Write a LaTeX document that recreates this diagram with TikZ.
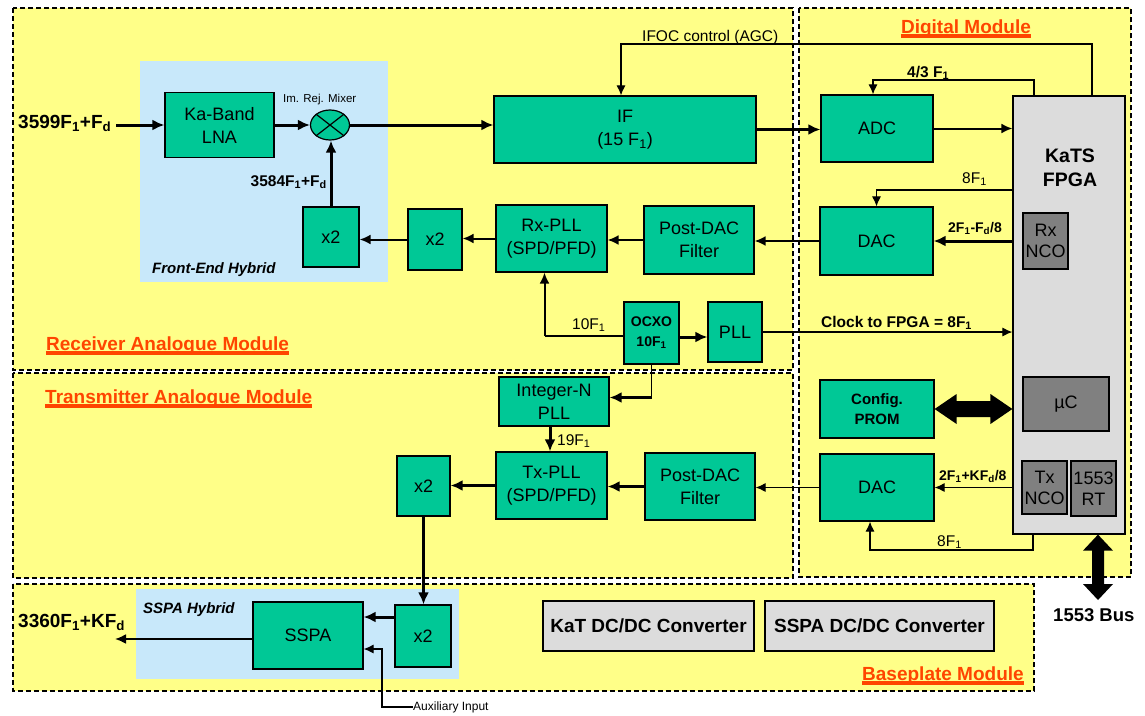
\documentclass[tikz,border=0pt]{standalone}
\usepackage{fontspec}
\setmainfont{Liberation Sans}
\usepackage{xcolor}
\usepackage{tikz}
\usetikzlibrary{arrows.meta, calc, shapes.geometric}

\definecolor{modyellow}{RGB}{255,255,136}
\definecolor{hybblue}{RGB}{200,232,250}
\definecolor{blkgreen}{RGB}{0,200,150}
\definecolor{fpgagray}{RGB}{220,220,220}
\definecolor{ncogray}{RGB}{128,128,128}
\definecolor{titleorange}{RGB}{255,69,0}
\newcommand{\Fone}{F\textsubscript{1}}
\newcommand{\Fdop}{F\textsubscript{d}}

\begin{document}
\begin{tikzpicture}[x=1pt, y=-1pt,
    module/.style={draw=black, fill=modyellow, line width=1.8pt, dash pattern=on 5pt off 3pt},
    hybrid/.style={fill=hybblue},
    blk/.style={draw=black, fill=blkgreen, line width=1.2pt, inner sep=0pt, align=center, font=\fontsize{18}{23}\selectfont},
    greybox/.style={blk, fill=fpgagray},
    ncobox/.style={blk, fill=ncogray, line width=2pt, font=\fontsize{18}{21}\selectfont},
    sz/.style 2 args={minimum width=#1pt, minimum height=#2pt},
    lbl/.style={inner sep=0pt, font=\fontsize{15.5}{18}\selectfont},
    blbl/.style={inner sep=0pt, font=\bfseries\fontsize{15.5}{18}\selectfont},
    modtitle/.style={inner sep=0pt, text=titleorange, font=\bfseries\fontsize{19}{23}\selectfont},
    uline/.style={draw=titleorange, line width=3.5pt},
    hyblbl/.style={inner sep=0pt, font=\bfseries\itshape\fontsize{15}{18}\selectfont},
    wire/.style={line width=1.1pt},
    thn/.style={line width=1.1pt, -{Latex[length=10pt,width=9pt]}},
    med/.style={line width=2pt, -{Latex[length=11pt,width=10pt]}},
    thk/.style={line width=3pt, -{Latex[length=12pt,width=11pt]}}]

    \useasboundingbox (0,0) rectangle (1145,715);

    % Modules
    \draw[module] (13,8) rectangle (793,370);
    \draw[module] (13,373) rectangle (793,578);
    \draw[module] (799,8) rectangle (1131,577);
    \draw[module] (13,584) rectangle (1034,691);

    % Hybrids
    \fill[hybrid] (140,61) rectangle (388,282);
    \fill[hybrid] (136,589) rectangle (459,679);
    \node[hyblbl, anchor=base west] (fehyb) at (152,273) {Front-End Hybrid};
    \node[hyblbl, anchor=base west] (sshyb) at (143,613) {SSPA Hybrid};

    % Titles
    \node[modtitle, anchor=base west] (rxtitle) at (46,350) {Receiver Analogue Module};
    \node[modtitle, anchor=base west] (txtitle) at (45,403) {Transmitter Analogue Module};
    \node[modtitle, anchor=base] (dgtitle) at (966,33) {Digital Module};
    \node[modtitle, anchor=base west] (bptitle) at (862,680) {Baseplate Module};
    \foreach \t in {rxtitle, txtitle, dgtitle, bptitle} {
        \draw[uline] ([yshift=-3pt]\t.base west) -- ([yshift=-3pt]\t.base east);
    }

    % Receiver blocks
    \node[blk, sz={109}{65}] (lna) at (219.5,125) {Ka-Band\\LNA};
    \node[draw, fill=blkgreen, ellipse, line width=1.2pt, minimum width=39pt, minimum height=30pt, inner sep=0pt] (mix) at (330,125) {};
    \draw[line width=1.2pt] (mix.north west) -- (mix.south east) (mix.north east) -- (mix.south west);
    \node[lbl, font=\fontsize{11.5}{13}\selectfont, anchor=base west] (mixlbl) at (283,102) {Im. Rej. Mixer};
    \node[blk, sz={56}{60}] (fex2) at (331,237) {x2};
    \node[blk, sz={54}{61}] (rxx2) at (435,239.5) {x2};
    \node[blk, sz={111}{67}] (rxpll) at (551.5,238.5) {Rx-PLL\\(SPD/PFD)};
    \node[blk, sz={110}{68}] (rxfilt) at (699,240) {Post-DAC\\Filter};
    \node[blk, sz={262}{67}] (if) at (625,129.5) {IF\\(15 \Fone)};
    \node[blk, sz={55}{62}, font=\bfseries\fontsize{14}{20}\selectfont] (ocxo) at (651.5,333) {OCXO\\10\Fone};
    \node[blk, sz={54}{60}] (pll) at (735,332) {PLL};

    % Digital blocks
    \node[greybox, sz={112}{438}] (fpga) at (1069,315) {};
    \node[inner sep=0pt, align=center, font=\bfseries\fontsize{19.5}{24}\selectfont] (fpgatxt) at (1070,168) {KaTS\\FPGA};
    \node[ncobox, sz={45}{56}] (rxnco) at (1045.5,241) {Rx\\NCO};
    \node[ncobox, sz={86}{54}] (uc) at (1066,404) {µC};
    \node[ncobox, sz={45}{53}] (txnco) at (1044.5,487.5) {Tx\\NCO};
    \node[ncobox, sz={45}{55}] (rt) at (1093.5,488.5) {1553\\RT};
    \node[blk, sz={112}{67}] (adc) at (877,128.5) {ADC};
    \node[blk, sz={113}{68}] (rxdac) at (876.5,241) {DAC};
    \node[blk, sz={114}{58}, font=\bfseries\fontsize{15}{20}\selectfont] (prom) at (877,409) {Config.\\PROM};
    \node[blk, sz={114}{67}] (txdac) at (877,487.5) {DAC};

    % Transmitter blocks
    \node[blk, sz={110}{49}] (intn) at (554,401.5) {Integer-N\\PLL};
    \node[blk, sz={111}{67}] (txpll) at (551.5,485.5) {Tx-PLL\\(SPD/PFD)};
    \node[blk, sz={110}{67}] (txfilt) at (700,486.5) {Post-DAC\\Filter};
    \node[blk, sz={53}{60}] (txx2) at (423.5,486) {x2};

    % Baseplate blocks
    \node[blk, sz={110}{67}] (sspa) at (308,635.5) {SSPA};
    \node[blk, sz={56}{62}] (ssx2) at (423,636) {x2};
    \node[greybox, sz={211}{50}, font=\bfseries\fontsize{19}{23}\selectfont] (katdc) at (648.5,626) {KaT DC/DC Converter};
    \node[greybox, sz={229}{50}, font=\bfseries\fontsize{19}{23}\selectfont] (sspadc) at (879.5,626) {SSPA DC/DC Converter};

    % Receive path
    \node[blbl, font=\bfseries\fontsize{19}{23}\selectfont, anchor=base west] (rxin) at (18,128) {3599\Fone+\Fdop};
    \draw[thk] ($(lna.west -| rxin.east)+(5,0)$) -- (lna.west);
    \draw[thk] (lna.east) -- (mix.west);
    \draw[thk] (mix.east) -- (mix.east -| if.west);
    \draw[thk] (fex2.north) -- (fex2.north |- mix.south);
    \node[blbl, anchor=base east] (lofreq) at (327,186) {3584\Fone+\Fdop};
    \draw[med] (rxx2.west) -- (rxx2.west -| fex2.east);
    \draw[med] (rxpll.west) -- (rxpll.west -| rxx2.east);
    \draw[med] (rxfilt.west) -- (rxfilt.west -| rxpll.east);
    \draw[med] (rxdac.west) -- (rxdac.west -| rxfilt.east);
    \draw[thk] (if.east) -- (if.east -| adc.west);
    \draw[med] (adc.east) -- (adc.east -| fpga.west);

    % Control and clocks
    \coordinate (agc) at (1092,44);
    \draw[thn] (agc |- fpga.north) -- (agc) -| ([xshift=-4pt]if.north);
    \node[lbl, anchor=base west] (agclbl) at (642,41) {IFOC control (AGC)};
    \coordinate (adcclk) at (1034,80);
    \draw[thn] (adcclk |- fpga.north) -- (adcclk) -| ([xshift=-4pt]adc.north);
    \node[blbl, anchor=base west] (adcclklbl) at (907,77) {4/3 \Fone};
    \coordinate (rxdacclk) at (1013,190);
    \draw[thn] (rxdacclk) -| (rxdac.north);
    \node[lbl, anchor=base west] (rxdacclklbl) at (962,183) {8\Fone};
    \draw[thk] (fpga.west |- rxdac.east) -- (rxdac.east);
    \node[blbl, font=\bfseries\fontsize{14}{17}\selectfont, anchor=base west] (rxncolbl) at (948,232) {2\Fone-\Fdop/8};
    \coordinate (ocxoout) at ([yshift=-4pt]ocxo.east);
    \draw[thk] (ocxoout) -- (ocxoout -| pll.west);
    \draw[thn] (pll.east) -- (pll.east -| fpga.west);
    \node[blbl, anchor=base west] (clklbl) at (821,327) {Clock to FPGA = 8\Fone};
    \coordinate (ocxoref) at ([yshift=-3pt]ocxo.west);
    \coordinate (rxpllref) at ([xshift=-7pt]rxpll.south);
    \draw[wire] (ocxoref) -- (ocxoref -| rxpllref);
    \draw[med] (ocxoref -| rxpllref) -- (rxpllref);
    \node[lbl, anchor=base west] (reflbl) at (572,329) {10\Fone};

    % Transmit path
    \coordinate (intnin) at ([yshift=4pt]intn.east);
    \draw[wire] (ocxo.south) -- (ocxo.south |- intnin);
    \draw[thk] (ocxo.south |- intnin) -- (intnin);
    \coordinate (intnout) at ([xshift=-4pt]intn.south);
    \draw[thk] (intnout) -- (intnout |- txpll.north);
    \node[lbl, anchor=base west] (txreflbl) at (557,445) {19\Fone};
    \draw[thk] (txfilt.west) -- (txfilt.west -| txpll.east);
    \draw[thk] (txpll.west) -- (txpll.west -| txx2.east);
    \draw[thn] (txdac.west) -- (txdac.west -| txfilt.east);
    \draw[thn] (fpga.west |- txdac.east) -- (txdac.east);
    \node[blbl, font=\bfseries\fontsize{14}{17}\selectfont, anchor=base west] (txncolbl) at (939,480) {2\Fone+K\Fdop/8};
    \coordinate (txdacclk) at (1033,550);
    \draw[thn] (txdacclk |- fpga.south) -- (txdacclk) -| ([xshift=-7pt]txdac.south);
    \node[lbl, anchor=base west] (txdacclklbl) at (937,546) {8\Fone};

    % SSPA
    \draw[thk] (txx2.south) -- (txx2.south |- ssx2.north);
    \coordinate (sspain) at ([yshift=19pt]ssx2.west);
    \draw[thk] (sspain) -- (sspain -| sspa.east);
    \coordinate (auxin) at (382,649);
    \node[lbl, font=\fontsize{12}{14}\selectfont, anchor=west] (auxlbl) at (413,707) {Auxiliary Input};
    \draw[thn] (auxlbl.west) -| (auxin) -- (auxin -| sspa.east);
    \coordinate (txout) at (115,639);
    \draw[med] (sspa.west |- txout) -- (txout);
    \node[blbl, font=\bfseries\fontsize{19}{23}\selectfont, anchor=base west] (txoutlbl) at (18,627) {3360\Fone+K\Fdop};

    % Buses
    \fill (prom.east) -- ++(22,-15) -- ++(0,7) -- ($(prom.east -| fpga.west)+(-22,-8)$) -- ++(0,-7)
        -- (prom.east -| fpga.west) -- ++(-22,15) -- ++(0,-7) -- ($(prom.east)+(22,8)$) -- ++(0,7) -- cycle;
    \coordinate (bus) at (1098,600);
    \fill (bus |- fpga.south) -- ++(15,16) -- ++(-9,0) -- ($(bus)+(6,-16)$) -- ++(9,0)
        -- (bus) -- ++(-15,-16) -- ++(9,0) -- ($(bus |- fpga.south)+(-6,16)$) -- ++(-9,0) -- cycle;
    \node[blbl, font=\bfseries\fontsize{18.5}{22}\selectfont, anchor=base west] (buslbl) at (1053,621) {1553 Bus};
\end{tikzpicture}
\end{document}
